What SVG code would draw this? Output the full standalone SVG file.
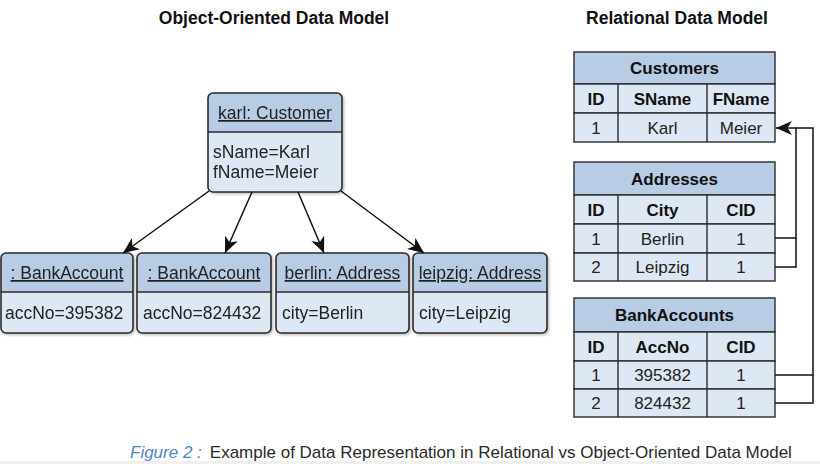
<svg xmlns="http://www.w3.org/2000/svg" width="820" height="464" viewBox="0 0 820 464">
<style>
  .title{font-family:"Liberation Sans",Arial,sans-serif;font-weight:bold;font-size:17.5px;fill:#111;text-anchor:middle}
  .obj{fill:#dee7f4;stroke:none}
  .hdr{fill:#b9cce5;stroke:none}
  .frame{fill:none;stroke:#2a2a2a;stroke-width:1.6}
  .sep{stroke:#2a2a2a;stroke-width:1.4}
  .otxt{font-family:"Liberation Sans",Arial,sans-serif;font-size:17.5px;fill:#222}
  .ohead{text-anchor:middle;text-decoration:underline}
  .tt{font-family:"Liberation Sans",Arial,sans-serif;font-size:17px;fill:#222;text-anchor:middle}
  .tb{font-weight:bold;fill:#111}
  .cell{fill:#dee7f4;stroke:#2a2a2a;stroke-width:1.4}
  .thead{fill:#b9cce5;stroke:#2a2a2a;stroke-width:1.4}
  .conn{fill:none;stroke:#111;stroke-width:1.5}
  .cap{font-family:"Liberation Sans",Arial,sans-serif;font-size:17px;fill:#2a2a2a}
</style>
<defs>
  <marker id="arr" markerWidth="17" markerHeight="14" refX="16" refY="7" orient="auto" markerUnits="userSpaceOnUse">
    <path d="M0,0 L16,7 L0,14 L4.5,7 Z" fill="#111"/>
  </marker>
  <filter id="sh" x="-10%" y="-10%" width="130%" height="130%">
    <feDropShadow dx="1.5" dy="1.5" stdDeviation="1" flood-color="#000" flood-opacity="0.25"/>
  </filter>
</defs>
<rect width="820" height="464" fill="#fff"/>
<rect x="0" y="461" width="820" height="3" fill="#f0f0f0"/>

<text class="title" x="274" y="24">Object-Oriented Data Model</text>
<text class="title" x="677" y="24">Relational Data Model</text>

<!-- Object nodes -->
<g id="karl" filter="url(#sh)">
  <rect class="obj" x="208" y="93" width="134" height="99" rx="5"/>
  <path class="hdr" d="M208,132 V98 Q208,93 213,93 H337 Q342,93 342,98 V132 Z"/>
  <line class="sep" x1="208" y1="132" x2="342" y2="132"/>
  <rect class="frame" x="208" y="93" width="134" height="99" rx="5"/>
  <text class="otxt ohead" x="275" y="119">karl: Customer</text>
  <text class="otxt" x="213" y="158">sName=Karl</text>
  <text class="otxt" x="213" y="178">fName=Meier</text>
</g>
<g id="ba1" filter="url(#sh)">
  <rect class="obj" x="1" y="253" width="132" height="80" rx="5"/>
  <path class="hdr" d="M1,292 V258 Q1,253 6,253 H128 Q133,253 133,258 V292 Z"/>
  <line class="sep" x1="1" y1="292" x2="133" y2="292"/>
  <rect class="frame" x="1" y="253" width="132" height="80" rx="5"/>
  <text class="otxt ohead" x="67" y="279">: BankAccount</text>
  <text class="otxt" x="5" y="319">accNo=395382</text>
</g>
<g id="ba2" filter="url(#sh)">
  <rect class="obj" x="137" y="253" width="134" height="80" rx="5"/>
  <path class="hdr" d="M137,292 V258 Q137,253 142,253 H266 Q271,253 271,258 V292 Z"/>
  <line class="sep" x1="137" y1="292" x2="271" y2="292"/>
  <rect class="frame" x="137" y="253" width="134" height="80" rx="5"/>
  <text class="otxt ohead" x="204" y="279">: BankAccount</text>
  <text class="otxt" x="143" y="319">accNo=824432</text>
</g>
<g id="berlin" filter="url(#sh)">
  <rect class="obj" x="276" y="253" width="133" height="80" rx="5"/>
  <path class="hdr" d="M276,292 V258 Q276,253 281,253 H404 Q409,253 409,258 V292 Z"/>
  <line class="sep" x1="276" y1="292" x2="409" y2="292"/>
  <rect class="frame" x="276" y="253" width="133" height="80" rx="5"/>
  <text class="otxt ohead" x="342.5" y="279">berlin: Address</text>
  <text class="otxt" x="282" y="319">city=Berlin</text>
</g>
<g id="leipzig" filter="url(#sh)">
  <rect class="obj" x="413" y="253" width="134" height="80" rx="5"/>
  <path class="hdr" d="M413,292 V258 Q413,253 418,253 H542 Q547,253 547,258 V292 Z"/>
  <line class="sep" x1="413" y1="292" x2="547" y2="292"/>
  <rect class="frame" x="413" y="253" width="134" height="80" rx="5"/>
  <text class="otxt ohead" x="480" y="279">leipzig: Address</text>
  <text class="otxt" x="419" y="319">city=Leipzig</text>
</g>

<!-- Tables -->
<g id="customers">
  <rect class="thead" x="574" y="52" width="201" height="32"/>
  <rect class="cell" x="574" y="84" width="201" height="29"/>
  <rect class="cell" x="574" y="113" width="201" height="29"/>
  <line class="sep" x1="618" y1="84" x2="618" y2="142"/>
  <line class="sep" x1="707" y1="84" x2="707" y2="142"/>
  <text class="tt tb" x="674.5" y="74">Customers</text>
  <text class="tt tb" x="596" y="104.5">ID</text>
  <text class="tt tb" x="662.5" y="104.5">SName</text>
  <text class="tt tb" x="741" y="104.5">FName</text>
  <text class="tt" x="596" y="133.5">1</text>
  <text class="tt" x="662.5" y="133.5">Karl</text>
  <text class="tt" x="741" y="133.5">Meier</text>
</g>
<g id="addresses">
  <rect class="thead" x="574" y="162" width="201" height="33"/>
  <rect class="cell" x="574" y="195" width="201" height="29"/>
  <rect class="cell" x="574" y="224" width="201" height="29"/>
  <rect class="cell" x="574" y="253" width="201" height="28"/>
  <line class="sep" x1="618" y1="195" x2="618" y2="281"/>
  <line class="sep" x1="707" y1="195" x2="707" y2="281"/>
  <text class="tt tb" x="674.5" y="184.5">Addresses</text>
  <text class="tt tb" x="596" y="215.5">ID</text>
  <text class="tt tb" x="662.5" y="215.5">City</text>
  <text class="tt tb" x="741" y="215.5">CID</text>
  <text class="tt" x="596" y="244.5">1</text>
  <text class="tt" x="662.5" y="244.5">Berlin</text>
  <text class="tt" x="741" y="244.5">1</text>
  <text class="tt" x="596" y="273">2</text>
  <text class="tt" x="662.5" y="273">Leipzig</text>
  <text class="tt" x="741" y="273">1</text>
</g>
<g id="bankaccounts">
  <rect class="thead" x="574" y="298" width="201" height="34"/>
  <rect class="cell" x="574" y="332" width="201" height="29"/>
  <rect class="cell" x="574" y="361" width="201" height="28"/>
  <rect class="cell" x="574" y="389" width="201" height="28"/>
  <line class="sep" x1="618" y1="332" x2="618" y2="417"/>
  <line class="sep" x1="707" y1="332" x2="707" y2="417"/>
  <text class="tt tb" x="674.5" y="321">BankAccounts</text>
  <text class="tt tb" x="596" y="352.5">ID</text>
  <text class="tt tb" x="662.5" y="352.5">AccNo</text>
  <text class="tt tb" x="741" y="352.5">CID</text>
  <text class="tt" x="596" y="381">1</text>
  <text class="tt" x="662.5" y="381">395382</text>
  <text class="tt" x="741" y="381">1</text>
  <text class="tt" x="596" y="409">2</text>
  <text class="tt" x="662.5" y="409">824432</text>
  <text class="tt" x="741" y="409">1</text>
</g>

<g id="connectors">
  <line class="conn" x1="209" y1="191" x2="123" y2="253" marker-end="url(#arr)"/>
  <line class="conn" x1="252" y1="192" x2="225" y2="253" marker-end="url(#arr)"/>
  <line class="conn" x1="298" y1="192" x2="324" y2="253" marker-end="url(#arr)"/>
  <line class="conn" x1="341" y1="191" x2="424" y2="253" marker-end="url(#arr)"/>
  <path class="conn" d="M775,238 H796 V128 H776" marker-end="url(#arr)"/>
  <path class="conn" d="M775,267 H796 V238"/>
  <path class="conn" d="M775,375 H813 V128 H796"/>
  <path class="conn" d="M775,403 H813 V375"/>
</g>

<text class="cap" x="130" y="458"><tspan fill="#4f86c6" font-style="italic">Figure 2 :</tspan><tspan dx="8">Example of Data Representation in Relational vs Object-Oriented Data Model</tspan></text>
</svg>
